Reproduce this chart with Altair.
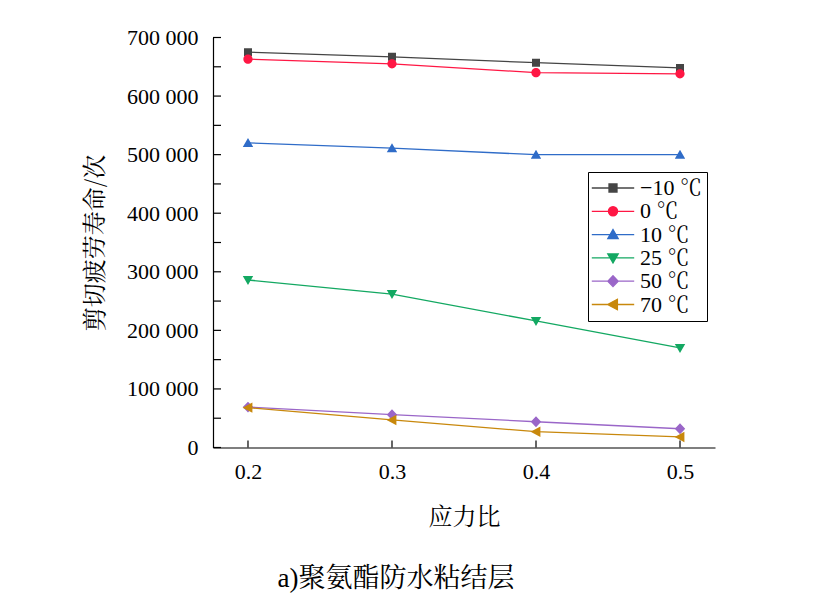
import altair as alt
import pandas as pd

# ---- data ----
ratios = [0.2, 0.3, 0.4, 0.5]
series_names = ["−10 ℃", "0 ℃", "10 ℃", "25 ℃", "50 ℃", "70 ℃"]
life_m10 = [675000, 667000, 657000, 648000]
life_0 = [663000, 655000, 640000, 638000]
life_10 = [520000, 511000, 500000, 500000]
life_25 = [286000, 262000, 216000, 170000]
life_50 = [69000, 56000, 44000, 32000]
life_70 = [68000, 47000, 27000, 18000]
all_series = [life_m10, life_0, life_10, life_25, life_50, life_70]

series_colors = ["#454545", "#ff1744", "#2f6cc8", "#13a862", "#9a66c8", "#c8880c"]

y_label_values = [0, 100000, 200000, 300000, 400000, 500000, 600000, 700000]
y_tick_values = [0, 50000, 100000, 150000, 200000, 250000, 300000, 350000,
                 400000, 450000, 500000, 550000, 600000, 650000, 700000]
x_tick_values = [0.2, 0.3, 0.4, 0.5]

# legend/marker symbols: a line segment (only stroked in the legend) + marker
seg = "M-5.3,0H5.3"
shape_paths = [
    seg + "M-1,-1H1V1H-1Z",
    seg + "M-1.15,0A1.15,1.15,0,1,1,1.15,0A1.15,1.15,0,1,1,-1.15,0Z",
    seg + "M0,-1.25L1.3,1L-1.3,1Z",
    seg + "M0,1.25L1.3,-1L-1.3,-1Z",
    seg + "M0,-1.35L1.3,0L0,1.35L-1.3,0Z",
    seg + "M-1.35,0L1.1,-1.3L1.1,1.3Z",
]

rows = []
for name, vals in zip(series_names, all_series):
    for r, v in zip(ratios, vals):
        rows.append({"ratio": r, "life": v, "series": name})
df = pd.DataFrame(rows)

W, H = 502, 410
serif = "'Liberation Serif', 'Noto Serif CJK SC', 'Noto Sans CJK SC', serif"
cjk = "'Noto Serif CJK SC', 'Noto Sans CJK SC'"

xscale = alt.Scale(domain=[0.1757, 0.5243], nice=False, zero=False)
yscale = alt.Scale(domain=[0, 700000], nice=False)

xaxis = alt.Axis(values=x_tick_values, format=".1f", title="应力比",
                 labelPadding=14, titlePadding=23, titleFont=cjk)
yaxis = alt.Axis(values=y_label_values, title="剪切疲劳寿命/次",
                 labelExpr="replace(format(datum.value, ','), ',', ' ')",
                 labelPadding=15, titlePadding=19, titleFont=cjk)
xenc = alt.X("ratio:Q", scale=xscale, axis=xaxis)
yenc = alt.Y("life:Q", scale=yscale, axis=yaxis)

color_scale = alt.Scale(domain=series_names, range=series_colors)
shape_scale = alt.Scale(domain=series_names, range=shape_paths)

lines = alt.Chart(df).mark_line(strokeWidth=1.3).encode(
    x=xenc, y=yenc,
    color=alt.Color("series:N", scale=color_scale, sort=series_names, legend=None),
)

points = alt.Chart(df).mark_point(filled=True, size=64, opacity=1).encode(
    x=xenc, y=yenc,
    color=alt.Color("series:N", scale=color_scale, sort=series_names, title=None),
    stroke=alt.Stroke("series:N", scale=color_scale, sort=series_names, title=None),
    shape=alt.Shape("series:N", scale=shape_scale, sort=series_names, title=None),
    strokeWidth=alt.value(0),
)

ytick_df = pd.DataFrame({"life": y_tick_values})
yticks = alt.Chart(ytick_df).mark_rule(color="black", strokeWidth=1.2).encode(
    y=yenc, x=alt.value(0), x2=alt.value(8),
)
xtick_df = pd.DataFrame({"ratio": x_tick_values})
xticks = alt.Chart(xtick_df).mark_rule(color="black", strokeWidth=1.2).encode(
    x=xenc, y=alt.value(H), y2=alt.value(H - 7),
)

chart = alt.layer(lines, points, yticks, xticks).resolve_legend(
    color="independent", stroke="independent", shape="independent"
).properties(
    width=W, height=H,
    autosize=alt.AutoSizeParams(type="none"),
    padding={"left": 205, "top": 29.5, "right": 93, "bottom": 150},
    title=alt.TitleParams("a)聚氨酯防水粘结层", orient="bottom", anchor="middle",
                          font=serif, fontSize=27, fontWeight="normal",
                          color="black", dx=-68, offset=36),
).configure_view(stroke=None).configure_axis(
    domainColor="black", domainWidth=1.2, ticks=False, grid=False,
    labelFont=serif, labelFontSize=22, labelColor="black",
    titleFontSize=24, titleColor="black", titleFontWeight="normal",
).configure_legend(
    orient="none", legendX=375, legendY=134.5,
    strokeColor="black", fillColor="white", padding=5, cornerRadius=0,
    labelFont=serif, labelFontSize=22, labelColor="black",
    rowPadding=1.3, symbolOffset=9, labelOffset=16,
    symbolSize=64, symbolStrokeWidth=1.3,
)

chart.save("out.html", embed_options={"renderer": "svg", "actions": False})
